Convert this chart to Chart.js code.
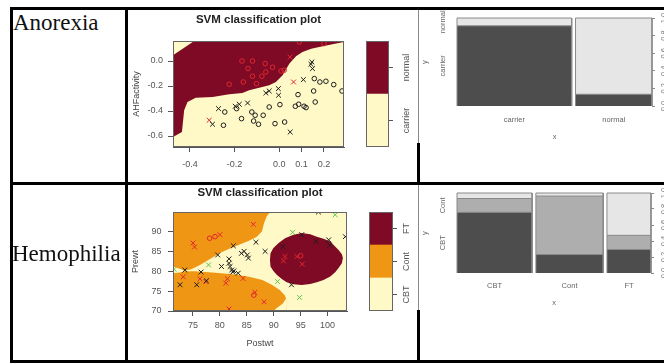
<!DOCTYPE html>
<html><head><meta charset="utf-8">
<script src="https://cdn.jsdelivr.net/npm/chart.js"></script>
<style>
html,body{margin:0;padding:0;background:#fff;width:664px;height:363px;overflow:hidden;position:relative}
canvas{position:absolute}
.b{position:absolute;background:#000;z-index:5}
.g{position:absolute;background:#8a8a8a;z-index:5}
.lbl{position:absolute;font-family:"Liberation Serif","Times New Roman",serif;font-size:23px;color:#111;line-height:normal;white-space:nowrap;z-index:6}
</style></head><body>
<div class="lbl" style="left:13px;top:10px">Anorexia</div>
<div class="lbl" style="left:12px;top:241px">Hemophilia</div>
<div class="b" style="left:10px;top:7px;width:654px;height:3px"></div>
<div class="b" style="left:10px;top:182px;width:654px;height:3px"></div>
<div class="b" style="left:10px;top:360px;width:654px;height:3px"></div>
<div class="b" style="left:10px;top:7px;width:3px;height:356px"></div>
<div class="b" style="left:125px;top:7px;width:3px;height:356px"></div>
<div class="g" style="left:418px;top:10px;width:1px;height:133px"></div>
<div class="b" style="left:417px;top:143px;width:3px;height:40px"></div>
<div class="g" style="left:418px;top:185px;width:1px;height:125px"></div>
<div class="b" style="left:417px;top:310px;width:3px;height:53px"></div>
<script>
// ================= DATA =================
// Row 1 ("Anorexia" row): SVM classification plot, classes carrier / normal
const r1Classes = ['carrier', 'normal'];
const r1XRange = [-0.476, 0.29];
const r1YRange = [-0.688, 0.16];
const r1XTicks = [-0.4, -0.2, 0.0, 0.1, 0.2];
const r1XTickLabels = ['-0.4', '-0.2', '0.0', '0.1', '0.2'];
const r1YTicks = [-0.6, -0.4, -0.2, 0.0];
const r1YTickLabels = ['-0.6', '-0.4', '-0.2', '0.0'];
const r1YTitle = 'AHFactivity';
// lower edge of the "normal" decision region
const r1NormalEdge = [[-0.476,-0.608],[-0.436,-0.568],[-0.426,-0.394],[-0.411,-0.328],[-0.374,-0.293],[-0.299,-0.288],[-0.224,-0.266],[-0.165,-0.256],[-0.135,-0.234],[-0.09,-0.213],[-0.045,-0.194],[-0.015,-0.168],[0.015,-0.114],[0.045,-0.021],[0.075,0.038],[0.104,0.072],[0.143,0.099],[0.179,0.112],[0.238,0.134],[0.29,0.152]];
// top-left corner that belongs to "carrier"
const r1CarrierCorner = [[-0.476,0.046],[-0.381,0.16]];
const r1CarrierX = [[-0.272,-0.381],[-0.299,-0.506],[-0.197,-0.362],[-0.179,-0.346],[-0.142,-0.336],[-0.06,-0.256],[-0.045,-0.24],[-0.004,-0.221],[-0.003,-0.274],[0.049,-0.568],[0.108,-0.149],[0.142,-0.026],[0.146,-0.008],[0.149,-0.061]];
const r1CarrierO = [[-0.244,-0.408],[-0.25,-0.514],[-0.191,-0.381],[-0.169,-0.461],[-0.123,-0.408],[-0.108,-0.434],[-0.115,-0.48],[-0.093,-0.506],[-0.072,-0.434],[-0.045,-0.368],[0.003,-0.349],[-0.019,-0.501],[0.024,-0.488],[0.084,-0.269],[0.072,-0.362],[0.087,-0.346],[0.111,-0.362],[0.12,-0.373],[0.157,-0.141],[0.182,-0.168],[0.209,-0.162],[0.244,-0.189],[0.281,-0.24],[0.154,-0.24],[0.161,-0.328]];
const r1NormalX = [[-0.314,-0.474],[0.064,-0.168],[0.048,0.032]];
const r1NormalO = [[-0.167,0.0],[-0.12,0.0],[-0.063,-0.021],[-0.06,-0.088],[-0.078,-0.122],[-0.12,-0.122],[-0.161,-0.168],[-0.224,-0.186],[-0.102,-0.181],[0.008,-0.08],[0.022,-0.074],[0.09,0.152],[-0.14,-0.06],[-0.03,-0.05],[0.2,0.139]];

// Row 2 ("Hemophilia" row): SVM classification plot, classes CBT / Cont / FT
const r2Classes = ['CBT', 'Cont', 'FT'];
const r2XRange = [71.3, 103.6];
const r2YRange = [70, 94.9];
const r2XTicks = [75, 80, 85, 90, 95, 100];
const r2XTickLabels = ['75', '80', '85', '90', '95', '100'];
const r2YTicks = [70, 75, 80, 85, 90];
const r2YTickLabels = ['70', '75', '80', '85', '90'];
const r2XTitle = 'Postwt';
const r2YTitle = 'Prewt';
const r2ContUpperEdge = [[71.3,81.2],[72.55,80.6],[73.5,80.1],[74.7,80.5],[76.3,81.6],[78.1,83.0],[80.0,84.6],[81.85,85.7],[83.7,86.7],[85.3,87.6],[86.8,88.6],[87.8,90.0],[88.2,92.1],[88.7,93.8],[89.3,94.9]];
const r2ContLowerEdge = [[71.3,79.5],[72.55,79.7],[73.5,80.0],[75.4,80.0],[79.2,79.6],[82.9,79.2],[85.4,78.6],[87.9,77.8],[89.8,76.5],[91.1,75.3],[92.0,74.0],[92.3,73.2],[92.35,70]];
const r2CbtCorner = [[90.0,70],[90.5,70.7],[91.7,71.9],[92.3,73.2]];
const r2FtTop = [[89.3,82.85],[89.4,84.5],[89.9,85.8],[90.85,87.05],[92.1,88.3],[93.65,89.15],[95.2,89.6],[96.76,89.3],[98.0,88.7],[99.24,88.15],[100.5,87.5],[101.4,86.2],[102.0,85.4],[102.65,84.3],[102.84,83.3]];
const r2FtBottom = [[89.3,82.85],[89.4,81.2],[89.9,80.1],[90.55,79.1],[91.5,78.05],[92.4,77.2],[93.65,76.7],[95.2,76.55],[96.76,76.8],[98.0,77.2],[99.24,77.8],[100.5,78.65],[101.4,79.75],[102.0,80.75],[102.65,82.0],[102.84,83.3]];
const r2CbtX = [[72.6,76.6],[73.5,80.3],[75.7,76.6],[82.5,86.4],[79.6,84.1],[76.5,79.8],[77.5,77.6],[80.3,81.2],[81.7,83.1],[81.7,82.0],[81.9,81.2],[82.2,80.3],[82.4,79.8],[82.6,80.1],[83.4,79.5],[84.0,84.5],[84.5,85.0],[85.1,84.1],[85.3,83.3],[86.7,87.3],[88.4,85.0],[98.3,94.9],[95.2,89.2],[97.8,87.5],[100.2,87.9],[100.4,86.6],[103.3,88.7],[93.3,76.6],[91.7,86.2]];
const r2ContX = [[73.2,78.6],[75.0,87.1],[75.3,86.1],[80.0,89.2],[86.2,91.8],[76.3,78.1],[77.4,77.4],[81.4,78.1],[81.1,77.0],[84.3,78.2],[88.2,72.3],[86.5,74.7],[81.7,70.5],[92.1,83.7],[91.8,82.6],[94.3,83.7],[95.3,81.8]];
const r2ContO = [[78.1,88.3],[79.1,88.7],[86.3,74.0],[95.0,83.9]];
const r2FtX = [[77.9,81.6],[93.5,89.8],[101.4,94.2],[94.8,73.4],[90.7,77.4],[71.5,80.5]];

// Spine plots (x = true class, y = predicted class)
const m1Cats = ['carrier', 'normal'];
const m1Levels = ['carrier', 'normal'];
const m1Counts = [[41, 4], [4, 26]];
const m2Cats = ['CBT', 'Cont', 'FT'];
const m2Levels = ['CBT', 'Cont', 'FT'];
const m2Counts = [[22, 5, 2], [6, 19, 1], [5, 3, 9]];
const spineTicks = [0, 0.2, 0.4, 0.6, 0.8, 1.0];
const spineTickLabels = ['0.0', '0.2', '0.4', '0.6', '0.8', '1.0'];

// ================= STYLE =================
const CREAM = '#FFF9C8', ORANGE = '#EF9615', DARKRED = '#7E0A25';
const PBLACK = '#1e1e1e', PRED = '#E3262E', PGREEN = '#5CC84A';
const GRAYS2 = ['#4D4D4D', '#E6E6E6'];
const GRAYS3 = ['#4D4D4D', '#AEAEAE', '#E6E6E6'];
Chart.defaults.font.family = "'Liberation Sans', Arial, Helvetica, sans-serif";
Chart.defaults.color = '#555';

function makeCanvas(left, top, w, h) {
  const c = document.createElement('canvas');
  c.width = w; c.height = h;
  c.style.left = left + 'px'; c.style.top = top + 'px';
  c.style.width = w + 'px'; c.style.height = h + 'px';
  document.body.appendChild(c);
  return c;
}
const xy = arr => arr.map(([x, y]) => ({x, y}));
function pts(arr, color, sym) {
  return { data: xy(arr), showLine: false, pointStyle: sym === 'x' ? 'crossRot' : 'circle',
    pointRadius: sym === 'x' ? 3.4 : 2.3, pointBorderColor: color, pointBackgroundColor: 'rgba(0,0,0,0)',
    pointBorderWidth: 1, borderColor: color, backgroundColor: 'rgba(0,0,0,0)', fill: false };
}
function region(arr, color, fill) {
  return { data: xy(arr), showLine: true, borderWidth: 0, borderColor: 'rgba(0,0,0,0)',
    pointRadius: 0, backgroundColor: color, fill: fill };
}
function areaPlugin(bg, frameColor) {
  return { id: 'areaBg',
    beforeDatasetsDraw(chart) { if (!bg) return; const {ctx, chartArea: a} = chart; ctx.save(); ctx.fillStyle = bg; ctx.fillRect(a.left, a.top, a.width, a.height); ctx.restore(); },
    afterDatasetsDraw(chart) { if (!frameColor) return; const {ctx, chartArea: a} = chart; ctx.save(); ctx.strokeStyle = frameColor; ctx.lineWidth = 1; ctx.strokeRect(Math.round(a.left) + 0.5, Math.round(a.top) + 0.5, Math.round(a.width) - 1, Math.round(a.height) - 1); ctx.restore(); } };
}
function rotLabels(id, o) {
  return { id: id, afterDraw(chart) {
    const s = chart.scales[o.scale], a = chart.chartArea, ctx = chart.ctx;
    ctx.save(); ctx.font = o.font; ctx.fillStyle = o.color; ctx.textAlign = 'center'; ctx.textBaseline = 'middle';
    const x = o.side === 'right' ? a.right + o.offset : a.left - o.offset;
    let lastTop = Infinity;
    for (const it of o.items) {
      const y = s.getPixelForValue(it.value);
      const half = ctx.measureText(it.text).width / 2;
      if (o.skipOverlap && y + half > lastTop - 1) continue;
      ctx.save(); ctx.translate(x, y); ctx.rotate(-Math.PI / 2); ctx.fillText(it.text, 0, 0); ctx.restore();
      lastTop = y - half;
    }
    ctx.restore();
  } };
}

function svmScatter(canvas, o) {
  return new Chart(canvas, {
    type: 'line',
    data: { datasets: o.datasets },
    options: {
      responsive: false, animation: false, events: [],
      layout: { padding: { left: 0, right: o.padRight, top: 0, bottom: 0 } },
      plugins: { legend: { display: false }, tooltip: { enabled: false },
        title: { display: true, text: 'SVM classification plot', fullSize: false, color: '#222',
          font: { size: 11.5, weight: 'bold' }, padding: { top: o.titleTop, bottom: o.titleBottom } } },
      scales: {
        x: { type: 'linear', min: o.xRange[0], max: o.xRange[1],
          afterBuildTicks: s => { s.ticks = o.xTicks.map(v => ({ value: v })); },
          afterFit: s => { s.height = o.xAxisH; },
          ticks: { callback: (v, i) => o.xLabels[i], font: { size: 9 }, color: '#555', padding: o.xTickPad, maxRotation: 0, autoSkip: false },
          grid: { drawOnChartArea: false, drawTicks: true, tickLength: 5, color: '#555' },
          border: { display: true, color: '#555' },
          title: { display: !!o.xTitle, text: o.xTitle || '', font: { size: 9 }, color: '#444', padding: { top: 0, bottom: o.xTitleBottom || 0 } } },
        y: { type: 'linear', min: o.yRange[0], max: o.yRange[1],
          afterBuildTicks: s => { s.ticks = o.yTicks.map(v => ({ value: v })); },
          afterFit: s => { s.width = o.yAxisW; },
          ticks: { callback: (v, i) => o.yLabels[i], font: { size: 9 }, color: '#555', padding: o.yTickPad, autoSkip: false },
          grid: { drawOnChartArea: false, drawTicks: true, tickLength: 5, color: '#555' },
          border: { display: true, color: '#555' },
          title: { display: true, text: o.yTitle, font: { size: 9 }, color: '#444', padding: { top: o.yTitleTop, bottom: 0 } } }
      }
    },
    plugins: [areaPlugin(CREAM, '#666')]
  });
}

function colorBar(canvas, o) {
  return new Chart(canvas, {
    type: 'bar',
    data: { labels: [''], datasets: o.classes.map((c, i) => ({ label: c, data: [1], backgroundColor: o.colors[i], borderWidth: 0, barPercentage: 1, categoryPercentage: 1 })) },
    options: {
      responsive: false, animation: false, events: [],
      layout: { padding: { left: o.left, top: o.top, bottom: o.bottom, right: 0 } },
      plugins: { legend: { display: false }, tooltip: { enabled: false } },
      scales: {
        x: { stacked: true, display: false },
        y: { stacked: true, position: 'right', min: 0, max: o.classes.length,
          afterBuildTicks: s => { s.ticks = o.classes.map((c, i) => ({ value: i + 0.5 })); },
          afterFit: s => { s.width = o.axisW; },
          ticks: { display: false },
          grid: { drawOnChartArea: false, drawTicks: true, tickLength: 4, color: '#555' },
          border: { display: false } }
      }
    },
    plugins: [areaPlugin(null, '#666'), rotLabels('cbLab', { scale: 'y', side: 'right', offset: o.labelOffset, font: "9px 'Liberation Sans', Arial", color: '#555', items: o.classes.map((c, i) => ({ value: i + 0.5, text: c })) })]
  });
}

function spine(canvas, o) {
  const gap = 0.02;
  const N = o.counts.reduce((s, col) => s + col.reduce((a, b) => a + b, 0), 0);
  const datasets = [], centers = [];
  let x0 = 0;
  o.counts.forEach((col) => {
    const n = col.reduce((a, b) => a + b, 0), w = n / N;
    let cum = 0;
    col.forEach((c, k) => {
      const lo = cum / n, hi = (cum + c) / n; cum += c;
      if (c > 0) datasets.push({ data: [{x: x0, y: lo}, {x: x0, y: hi}, {x: x0 + w, y: hi}, {x: x0 + w, y: lo}],
        fill: { value: lo }, backgroundColor: o.colors[k], borderColor: '#8a8a8a', borderWidth: 1, pointRadius: 0, clip: false });
    });
    centers.push(x0 + w / 2);
    x0 += w + gap;
  });
  const first = o.counts[0], n0 = first.reduce((a, b) => a + b, 0);
  let cum0 = 0;
  const leftItems = o.levels.map((lv, k) => { const mid = (cum0 + first[k] / 2) / n0; cum0 += first[k]; return { value: mid, text: lv }; });
  const font = "7.5px 'Liberation Sans', Arial";
  return new Chart(canvas, {
    type: 'line',
    data: { datasets },
    options: {
      responsive: false, animation: false, events: [],
      layout: { padding: { left: 0, right: 0, top: o.top, bottom: 0 } },
      plugins: { legend: { display: false }, tooltip: { enabled: false } },
      scales: {
        x: { type: 'linear', min: 0, max: 1 + gap * (o.cats.length - 1),
          afterBuildTicks: s => { s.ticks = centers.map(v => ({ value: v })); },
          afterFit: s => { s.height = o.xAxisH; },
          ticks: { callback: (v, i) => o.cats[i], font: { size: 7.5 }, color: '#666', padding: o.xTickPad, maxRotation: 0, autoSkip: false },
          grid: { display: false, drawTicks: false }, border: { display: false },
          title: { display: true, text: 'x', font: { size: 7.5 }, color: '#666', padding: { top: 0, bottom: o.xTitleBottom } } },
        y: { type: 'linear', position: 'right', min: 0, max: 1,
          afterBuildTicks: s => { s.ticks = spineTicks.map(v => ({ value: v })); },
          afterFit: s => { s.width = o.rightW; },
          ticks: { display: false },
          grid: { drawOnChartArea: false, drawTicks: true, tickLength: 3, color: '#888' },
          border: { display: false } },
        yl: { type: 'linear', position: 'left', min: 0, max: 1,
          afterFit: s => { s.width = o.leftW; },
          ticks: { display: false }, grid: { display: false, drawTicks: false }, border: { display: false },
          title: { display: true, text: 'y', font: { size: 7.5 }, color: '#666', padding: { top: 1.5, bottom: 0 } } }
      }
    },
    plugins: [
      rotLabels('spL', { scale: 'y', side: 'left', offset: 13.7, font, color: '#666', skipOverlap: true, items: leftItems }),
      rotLabels('spR', { scale: 'y', side: 'right', offset: o.rightLabelOffset, font, color: '#777', items: spineTicks.map((v, i) => ({ value: v, text: spineTickLabels[i] })) })
    ]
  });
}

// ================= CHARTS =================
svmScatter(makeCanvas(128, 10, 290, 172), {
  datasets: [
    pts(r1CarrierX, PBLACK, 'x'), pts(r1CarrierO, PBLACK, 'o'),
    pts(r1NormalX, PRED, 'x'), pts(r1NormalO, PRED, 'o'),
    region(r1CarrierCorner, CREAM, 'end'),
    region(r1NormalEdge, DARKRED, 'end')
  ],
  padRight: 74, titleTop: 3, titleBottom: 14.2,
  xRange: r1XRange, xTicks: r1XTicks, xLabels: r1XTickLabels, xAxisH: 35, xTickPad: 7,
  yRange: r1YRange, yTicks: r1YTicks, yLabels: r1YTickLabels, yAxisW: 45, yTickPad: 5,
  yTitle: r1YTitle, yTitleTop: 3.3
});
colorBar(makeCanvas(360, 10, 58, 172), { classes: r1Classes, colors: [CREAM, DARKRED], left: 6, top: 31, bottom: 35, axisW: 29, labelOffset: 18 });

svmScatter(makeCanvas(128, 184, 290, 178), {
  datasets: [
    pts(r2CbtX, PBLACK, 'x'), pts(r2ContX, PRED, 'x'), pts(r2ContO, PRED, 'o'), pts(r2FtX, PGREEN, 'x'),
    region(r2FtTop, DARKRED, '+1'), region(r2FtBottom, DARKRED, false),
    region(r2CbtCorner, CREAM, 'start'),
    region(r2ContLowerEdge, ORANGE, 'start'),
    region(r2ContUpperEdge, ORANGE, 'end')
  ],
  padRight: 71, titleTop: 2, titleBottom: 12.2,
  xRange: r2XRange, xTicks: r2XTicks, xLabels: r2XTickLabels, xAxisH: 51, xTickPad: 4,
  xTitle: r2XTitle, xTitleBottom: 12.6,
  yRange: r2YRange, yTicks: r2YTicks, yLabels: r2YTickLabels, yAxisW: 45, yTickPad: 6.5,
  yTitle: r2YTitle, yTitleTop: 2.6
});
colorBar(makeCanvas(363, 184, 55, 178), { classes: r2Classes, colors: [CREAM, ORANGE, DARKRED], left: 6, top: 28, bottom: 51, axisW: 25, labelOffset: 14 });

spine(makeCanvas(419, 10, 245, 172), { cats: m1Cats, levels: m1Levels, counts: m1Counts, colors: GRAYS2,
  top: 8, xAxisH: 76, xTickPad: 9, xTitleBottom: 40.8, rightW: 12, leftW: 38, rightLabelOffset: 12 });
spine(makeCanvas(419, 184, 245, 178), { cats: m2Cats, levels: m2Levels, counts: m2Counts, colors: GRAYS3,
  top: 9, xAxisH: 89, xTickPad: 8.6, xTitleBottom: 54.8, rightW: 13, leftW: 38, rightLabelOffset: 13 });
</script>
</body></html>
